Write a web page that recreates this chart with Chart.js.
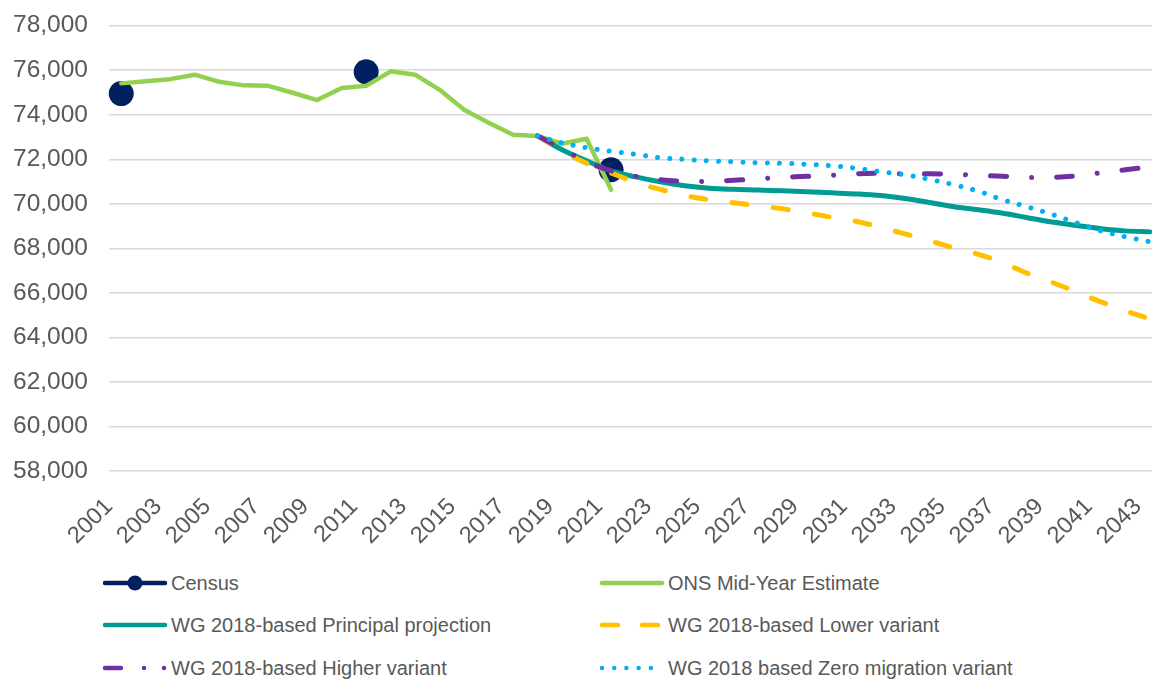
<!DOCTYPE html>
<html>
<head>
<meta charset="utf-8">
<script src="https://cdn.jsdelivr.net/npm/chart.js@4"></script>
<style>
  html, body { margin: 0; padding: 0; background: #fff; overflow: hidden; width: 1152px; height: 679px; }
  #wrap { position: relative; width: 1152px; height: 679px; overflow: hidden; }
  #chPop { position: absolute; left: 0; top: -10px; }
  .lg { position: absolute; display: flex; align-items: center; font-family: "Liberation Sans", Arial, sans-serif;
        font-size: 20px; color: #595959; white-space: nowrap; }
  .lg svg { margin-right: 2px; }
</style>
</head>
<body>
<div id="wrap">
  <canvas id="chPop" width="1184" height="563"></canvas>
  <div id="legend"></div>
</div>
<script>
// Population: census, mid-year estimates and WG 2018-based projections

const years = [];
for (let y = 2001; y <= 2043; y++) years.push(String(y));

// Census years only (2001, 2011, 2021)
const censusYears = ['2001', '2011', '2021'];
const censusVals = [74950, 75930, 71530];

// ONS mid-year estimates 2001..2021
const onsMYE = [75410, 75510, 75600, 75800, 75480, 75320, 75300, 74990, 74660, 75200,
                75300, 75950, 75800, 75120, 74220, 73640, 73100, 73050, 72700, 72920, 70630];

// WG 2018-based projections 2018..2043
const principal = [73050, 72430, 71930, 71480, 71210, 70990, 70810, 70700, 70650, 70620,
                   70585, 70545, 70495, 70445, 70370, 70235, 70060, 69870, 69735, 69580,
                   69375, 69180, 69025, 68885, 68785, 68740];
const lower = [73050, 72380, 71820, 71390, 70970, 70650, 70380, 70180, 70045, 69910,
               69775, 69595, 69395, 69215, 68945, 68650, 68340, 68025, 67730, 67350,
               66875, 66475, 66045, 65595, 65190, 64830];
const higher = [73050, 72470, 71890, 71480, 71235, 71080, 71010, 71010, 71055, 71125,
                71190, 71235, 71280, 71350, 71370, 71350, 71350, 71325, 71280, 71235,
                71190, 71190, 71260, 71395, 71530, 71665];
const zeroMig = [73050, 72740, 72520, 72360, 72225, 72070, 72000, 71930, 71890, 71845,
                 71820, 71775, 71710, 71595, 71440, 71305, 71100, 70855, 70565, 70180,
                 69865, 69530, 69145, 68785, 68520, 68295];

const yTicksMin = 58000, yTicksMax = 78000, yStep = 2000;

const FONT = '"Liberation Sans", Arial, sans-serif';
const GREY = '#595959';

function pad(startYear, vals) {
    const out = years.map(() => null);
    const s = years.indexOf(String(startYear));
    vals.forEach((v, i) => { out[s + i] = v; });
    return out;
}

const censusData = years.map(y => {
    const i = censusYears.indexOf(y);
    return i >= 0 ? censusVals[i] : null;
});

const series = [
    { label: 'Census', data: censusData, color: '#002060', width: 4.5, dash: [], order: 9, census: true },
    { label: 'ONS Mid-Year Estimate', data: pad(2001, onsMYE), color: '#92D050', width: 4.5, dash: [], order: 5 },
    { label: 'WG 2018-based Principal projection', data: pad(2018, principal), color: '#009B95', width: 5, dash: [], order: 4 },
    { label: 'WG 2018-based Lower variant', data: pad(2018, lower), color: '#FFC000', width: 5, dash: [15, 26.5], order: 3 },
    { label: 'WG 2018-based Higher variant', data: pad(2018, higher), color: '#7030A0', width: 5, dash: [16, 25, 0.01, 25], order: 2 },
    { label: 'WG 2018 based Zero migration variant', data: pad(2018, zeroMig), color: '#00B0F0', width: 5, dash: [0.01, 12.2], order: 1 }
];

const ctx = document.getElementById('chPop').getContext('2d');
window.popChart = new Chart(ctx, {
    type: 'line',
    data: {
        labels: years,
        datasets: series.map(s => ({
            label: s.label,
            data: s.data,
            borderColor: s.color,
            backgroundColor: s.color,
            borderWidth: s.width,
            borderDash: s.dash,
            borderCapStyle: 'round',
            borderJoinStyle: 'round',
            pointRadius: s.census ? 12.5 : 0,
            pointHoverRadius: s.census ? 12.5 : 0,
            pointBorderWidth: 0,
            showLine: !s.census,
            spanGaps: false,
            tension: (s.census || s.label.startsWith('ONS')) ? 0 : 0.35,
            order: s.order,
            fill: false
        }))
    },
    options: {
        responsive: false,
        animation: false,
        layout: { padding: { top: 7, left: 0, right: 0, bottom: 0 } },
        scales: {
            x: {
                offset: true,
                grid: { display: false },
                border: { display: false },
                ticks: {
                    autoSkip: false,
                    maxRotation: 45,
                    minRotation: 45,
                    color: GREY,
                    font: { family: FONT, size: 23.5 },
                    padding: 14,
                    labelOffset: -12,
                    callback: function(val, idx) {
                        return idx % 2 === 0 ? this.getLabelForValue(val) : '';
                    }
                },
                afterFit: function(scale) { scale.height = 82; }
            },
            y: {
                min: yTicksMin,
                max: yTicksMax,
                grid: { color: '#D9D9D9', lineWidth: 1.5, drawTicks: false },
                border: { display: false },
                ticks: {
                    stepSize: yStep,
                    color: GREY,
                    padding: 21,
                    font: { family: FONT, size: 24.5 },
                    callback: v => v.toLocaleString('en-US')
                },
                afterFit: function(scale) { scale.width = 109; }
            }
        },
        plugins: {
            legend: { display: false },
            tooltip: { enabled: false }
        }
    }
});

// html legend, two columns like the original
const legendPos = [
    { x: 101, y: 583 }, { x: 598, y: 583 },
    { x: 101, y: 625 }, { x: 598, y: 625 },
    { x: 101, y: 668 }, { x: 598, y: 668 }
];
const legendBox = document.getElementById('legend');
series.forEach((s, i) => {
    const p = legendPos[i];
    const el = document.createElement('div');
    el.className = 'lg';
    el.style.left = p.x + 'px';
    el.style.top = (p.y - 14) + 'px';
    el.style.height = '28px';
    let svg = '<svg width="68" height="16" viewBox="0 0 68 16">';
    let dash = '';
    if (s.label.indexOf('Lower') >= 0) dash = 'stroke-dasharray="16 24"';
    if (s.label.indexOf('Higher') >= 0) dash = 'stroke-dasharray="16 23 0.01 20 0.01 40"';
    if (s.label.indexOf('Zero') >= 0) dash = 'stroke-dasharray="0.01 12.2"';
    svg += `<line x1="4" y1="8" x2="64" y2="8" stroke="${s.color}" stroke-width="4.5" stroke-linecap="round" ${dash}/>`;
    if (s.census) svg += `<circle cx="34" cy="8" r="7.5" fill="${s.color}"/>`;
    svg += '</svg>';
    el.innerHTML = svg + '<span>' + s.label + '</span>';
    legendBox.appendChild(el);
});
</script>
</body>
</html>
